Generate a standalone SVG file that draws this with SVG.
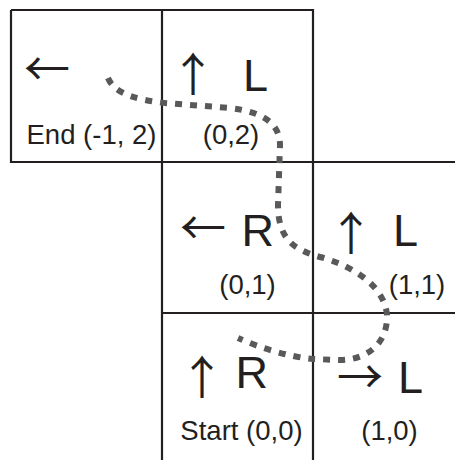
<svg xmlns="http://www.w3.org/2000/svg" width="455" height="460" viewBox="0 0 455 460">
<style>
.grid{stroke:#231f20;stroke-width:2.2;fill:none}
.big{font-family:"Liberation Sans",Arial,sans-serif;font-size:45px;fill:#231f20}
.arr{font-family:"Noto Sans CJK JP","Liberation Sans",sans-serif;font-size:46px;fill:#231f20}
.lab{font-family:"Liberation Sans",Arial,sans-serif;font-size:27.5px;fill:#231f20;text-anchor:middle}
.route{stroke:#58595b;stroke-width:6;fill:none;stroke-dasharray:7 8}
</style>
<rect width="455" height="460" fill="#fff"/>
<g id="grid-lines">
<path class="grid" d="M11 10 H313 V162 M11 10 V162 H455 M162 10 V460 M313 162 V460 M162 313 H455"/>
</g>
<g id="cell-m1-2">
<text class="arr" x="24" y="85">←</text>
<text class="lab" x="91.5" y="144">End (-1, 2)</text>
</g>
<g id="cell-0-2">
<text class="arr" x="170" y="91">↑</text>
<text class="big" x="243" y="91">L</text>
<text class="lab" x="231" y="144">(0,2)</text>
</g>
<g id="cell-0-1">
<text class="arr" x="180" y="244">←</text>
<text class="big" x="241.5" y="246">R</text>
<text class="lab" x="247.5" y="294">(0,1)</text>
</g>
<g id="cell-1-1">
<text class="arr" x="328" y="250">↑</text>
<text class="big" x="393" y="246">L</text>
<text class="lab" x="417" y="294">(1,1)</text>
</g>
<g id="cell-0-0">
<text class="arr" x="179" y="394">↑</text>
<text class="big" x="235.5" y="388">R</text>
<text class="lab" x="241.5" y="440">Start (0,0)</text>
</g>
<g id="cell-1-0">
<text class="arr" x="337" y="393">→</text>
<text class="big" x="398" y="393">L</text>
<text class="lab" x="389.5" y="440">(1,0)</text>
</g>
<g id="connectors">
<path class="route" d="M108 78 C115 95 140 100 165 103 L230 108 C265 112 280 125 280 145 L278 205 C278 240 295 250 320 257 C360 268 385 290 387 315 C388 345 365 360 340 360 L313 359 C290 357 260 348 238 338"/>
</g>
</svg>
